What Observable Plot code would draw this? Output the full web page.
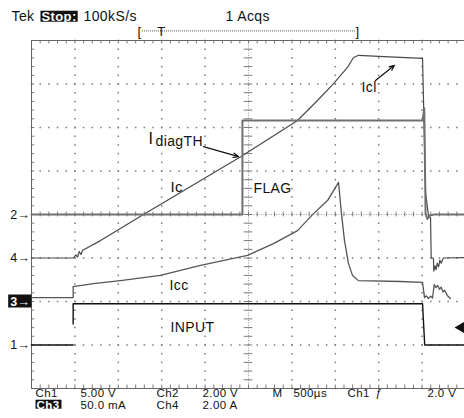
<!DOCTYPE html>
<html><head><meta charset="utf-8">
<script src="https://cdn.jsdelivr.net/npm/d3@7"></script>
<script src="https://cdn.jsdelivr.net/npm/@observablehq/plot@0.6"></script>
<style>
body{margin:0;background:#fff;}
#chart svg{display:block;}
#chart svg text{letter-spacing:0.4px;}
</style></head><body><div id="chart"></div>
<script>
// x: time in µs (M 500µs/div, 10 div); y: screen divisions (8 div, centre = 0)
// INPUT (Ch1, 5.00 V/div, ground at -3 div)
const inputTime  = [0, 480, 480, 480, 480, 4505, 4530, 5000];
const inputLevel = [-3, -3, null, -2.52, -2.05, -2.05, -3, -3];
// FLAG (Ch2, 2.00 V/div, ground at 0 div)
const flagTime  = [0, 2430, 2430, 4505, 4525, 4540, 4560, 4590, 4640, 5000];
const flagLevel = [0, 0, 2.16, 2.16, 2.44, 0.02, -0.1, -0.02, 0, 0];
// Ic (Ch4, 2.00 A/div, ground at -1 div)
const icTime  = [0, 484, 510, 530, 550, 570, 590, 795, 1290, 2410, 3065, 3295, 3480, 3640, 3710, 3770, 4060, 4505, 4520, 4540, 4575, 4597, 4605, 4630, 4635, 4650, 4660, 4675, 4690, 4705, 4720, 4745, 5000];
const icLevel = [-1, -1, -0.93, -0.98, -0.85, -0.92, -0.82, -0.60, 0, 1.33, 2.16, 2.62, 3.01, 3.38, 3.61, 3.66, 3.63, 3.59, 2.3, 0.5, -0.05, -0.07, -1.0, -1.0, -1.3, -1.18, -1.27, -1.12, -1.2, -1.05, -1.12, -1.0, -0.99];
// Icc (Ch3, 50.0 mA/div, ground at -2 div)
const iccTime  = [0, 480, 480, 714, 1025, 1486, 1947, 2488, 2788, 3065, 3249, 3410, 3537, 3571, 3606, 3652, 3698, 3767, 4251, 4505, 4528, 4550, 4570, 4600, 4620, 4640, 4660, 4680, 4700, 4720, 4740, 4760, 4790, 4827];
const iccLevel = [-1.91, -1.91, -1.66, -1.59, -1.52, -1.40, -1.17, -0.94, -0.67, -0.37, 0.02, 0.32, 0.74, 0.02, -0.60, -1.13, -1.40, -1.52, -1.54, -1.56, -1.91, -1.87, -1.93, -1.88, -1.92, -1.61, -1.68, -1.63, -1.72, -1.67, -1.78, -1.74, -1.86, -1.93];

// trace annotations
const noteText = ["Icl", "I", "diagTH", "Ic", "FLAG", "Icc", "INPUT"];
const noteTime = [3802, 1348, 1428, 1601, 2557, 1590, 1601];
const noteLevel = [2.91, 1.75, 1.67, 0.62, 0.59, -1.64, -2.59];
const noteSize = [14, 16, 14, 15, 14, 14, 14];
const arrowFromTime = [3963, 1981], arrowFromLevel = [3.08, 1.56];
const arrowToTime = [4182, 2385], arrowToLevel = [3.43, 1.33];

// channel ground markers
const chanMarker = ["2→", "4→", "3→", "1→"];
const chanLevel = [0, -1, -2, -3];

// scope status text
const headText = ["Tek", "Stop:", "100kS/s", "1 Acqs"];
const headTime = [-230, 115, 599, 2235];
const footText1 = ["Ch1", "5.00 V", "Ch2", "2.00 V", "M", "500µs", "Ch1", "ƒ", "2.0 V"];
const footTime1 = [46, 564, 1440, 1970, 2776, 3018, 3640, 3963, 4562];
const footText2 = ["Ch3", "50.0 mA", "Ch4", "2.00 A"];
const footTime2 = [58, 564, 1440, 1970];
const recordMarks = ["[", "T", "]"];
const recordTime = [1244, 1498, 3756];
const trigLevel = -2.60;

const rows = (ts, vs) => ts.map((t, i) => ({t, v: vs[i]}));
const input = rows(inputTime, inputLevel);
const flag = rows(flagTime, flagLevel);
const ic = rows(icTime, icLevel);
const icc = rows(iccTime, iccLevel);
const notes = noteText.map((s, i) => ({s, t: noteTime[i], v: noteLevel[i], fs: noteSize[i]}));
const arrows = arrowFromTime.map((t, i) => ({t1: t, v1: arrowFromLevel[i], t2: arrowToTime[i], v2: arrowToLevel[i]}));
const markers = chanMarker.map((s, i) => ({s, v: chanLevel[i]}));
const head = headText.map((s, i) => ({s, t: headTime[i]}));
const foot1 = footText1.map((s, i) => ({s, t: footTime1[i]}));
const foot2 = footText2.map((s, i) => ({s, t: footTime2[i]}));
const recs = recordMarks.map((s, i) => ({s, t: recordTime[i]}));

// graticule: dotted lines every division, dots every 1/5 division
const majorT = d3.range(500, 5000, 500).filter(t => t !== 2500);
const majorV = d3.range(-3, 4, 1).filter(v => v !== 0);
const minorT = d3.range(0, 5001, 100);
const minorV = d3.range(-4, 4.001, 0.2);
const gridDots = [
  ...d3.cross(majorT, minorV).map(([t, v]) => ({t, v})),
  ...d3.cross(minorT, majorV).map(([t, v]) => ({t, v}))
];

const grey = "#7a7a7a";
const font = "Liberation Sans, Arial, sans-serif";

const plot = Plot.plot({
  width: 464, height: 418,
  marginTop: 40, marginBottom: 30, marginLeft: 31, marginRight: 0,
  x: {domain: [0, 5000], range: [31, 465], axis: null},
  y: {domain: [-4, 4], range: [388, 40], axis: null},
  style: {fontFamily: font, background: "#fff", overflow: "visible", color: "#000"},
  marks: [
    Plot.dot(gridDots, {x: "t", y: "v", symbol: "square", r: 0.85, fill: grey, stroke: null}),
    // centre lines with minor ticks
    Plot.ruleX([2500], {stroke: "#9a9a9a", strokeDasharray: "1,1.5"}),
    Plot.ruleY([0], {stroke: "#9a9a9a", strokeDasharray: "1,1.5"}),
    Plot.ruleX(minorT, {y1: -0.055, y2: 0.055, stroke: grey}),
    Plot.ruleY(minorV, {x1: 2450, x2: 2550, stroke: grey}),
    // frame ticks
    Plot.ruleX(minorT, {y1: 4, y2: 3.92, stroke: grey}),
    Plot.ruleX(minorT, {y1: -4, y2: -3.92, stroke: grey}),
    Plot.ruleY(minorV, {x1: 0, x2: 38, stroke: grey}),
    // frame
    Plot.ruleY([4, -4], {stroke: "#666"}),
    Plot.ruleX([0], {stroke: "#666"}),
    // traces
    Plot.line(icc, {x: "t", y: "v", stroke: "#555", strokeWidth: 1.3}),
    Plot.line(ic, {x: "t", y: "v", stroke: "#4a4a4a", strokeWidth: 1.2}),
    Plot.line(flag, {x: "t", y: "v", stroke: "#707070", strokeWidth: 2}),
    Plot.line(input, {x: "t", y: "v", stroke: "#111", strokeWidth: 1.4}),
    // annotations
    Plot.text(notes, {x: "t", y: "v", text: "s", fontSize: d => d.fs, textAnchor: "start", fill: "#111"}),
    Plot.arrow(arrows, {x1: "t1", y1: "v1", x2: "t2", y2: "v2", stroke: "#111", strokeWidth: 1.2, headLength: 7, headAngle: 45}),
    Plot.dot([trigLevel], {x: () => 4954, y: d => d, symbol: "triangle", rotate: -90, r: 4.5, fill: "#111", stroke: null}),
    // channel markers
    Plot.text(markers.filter(d => d.s !== "3→"), {x: -12, y: "v", text: "s", fontSize: 12.5, textAnchor: "end", fill: "#111"}),
    Plot.text(markers.filter(d => d.s === "3→"), {x: -12, y: "v", text: "s", fontSize: 12.5, textAnchor: "end", fill: "#fff", fontWeight: "bold"}),
    // header
    Plot.text(head.filter(d => d.s !== "Stop:"), {x: "t", y: 4.55, text: "s", fontSize: 14, textAnchor: "start", fill: "#111", fontWeight: d => d.s === "Tek" ? "bold" : "normal"}),
    Plot.text(head.filter(d => d.s === "Stop:"), {x: "t", y: 4.55, text: "s", fontSize: 13, textAnchor: "start", fill: "#fff", fontWeight: "bold"}),
    Plot.ruleY([4.22], {x1: 1279, x2: 3744, stroke: "#555", strokeDasharray: "1,1"}),
    Plot.text(recs, {x: "t", y: 4.21, text: "s", fontSize: 13, textAnchor: "middle", fill: "#111"}),
    // footer
    Plot.text(foot1, {x: "t", y: -4.10, text: "s", fontSize: 11.5, textAnchor: "start", fill: "#111"}),
    Plot.text(foot2.filter(d => d.s !== "Ch3"), {x: "t", y: -4.38, text: "s", fontSize: 11.5, textAnchor: "start", fill: "#111"}),
    Plot.text(foot2.filter(d => d.s === "Ch3"), {x: "t", y: -4.38, text: "s", fontSize: 11.5, textAnchor: "start", fill: "#fff", fontWeight: "bold"})
  ]
});
document.getElementById("chart").append(plot);

// black boxes behind inverted status labels (padding: left, top, right, bottom)
const inverted = new Map([["Stop:", [1, -2, 1, -2]], ["Ch3", [1, -1, 2, -2]], ["3→", [2, 0, 1, -1]]]);
plot.querySelectorAll("text").forEach(el => {
  if (!inverted.has(el.textContent)) return;
  const [pl, pt, pr, pb] = inverted.get(el.textContent);
  const b = el.getBBox();
  const r = document.createElementNS("http://www.w3.org/2000/svg", "rect");
  r.setAttribute("x", b.x - pl);
  r.setAttribute("y", b.y - pt);
  r.setAttribute("width", b.width + pl + pr);
  r.setAttribute("height", b.height + pt + pb);
  r.setAttribute("fill", "#111");
  const tr = el.getAttribute("transform");
  if (tr) r.setAttribute("transform", tr);
  el.parentNode.insertBefore(r, el);
});
</script></body></html>
